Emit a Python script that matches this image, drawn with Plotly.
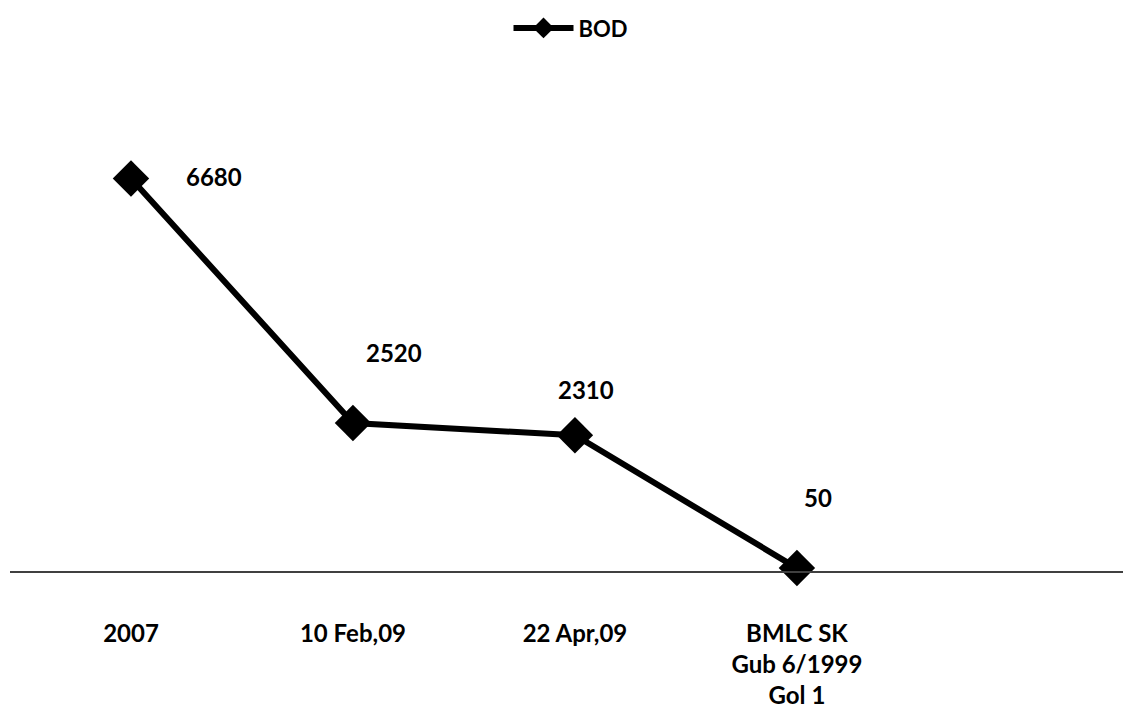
import plotly.graph_objects as go

categories = ["2007", "10 Feb,09", "22 Apr,09", "BMLC SK<br>Gub 6/1999<br>Gol 1"]
bod_values = [6680, 2520, 2310, 50]
series_name = "BOD"

# label offsets (pixels) relative to each marker: style only
label_dx = [83, 41, 11, 21]
label_dy = [2, 70, 46, 71]

FONT = "Lato"

fig = go.Figure()
fig.add_trace(go.Scatter(
    x=list(range(len(categories))), y=bod_values, name=f"<b>{series_name}</b>",
    mode="lines+markers",
    line=dict(color="#000000", width=6),
    marker=dict(symbol="diamond", size=28, color="#000000"),
    cliponaxis=False,
    showlegend=True,
))

for i, v in enumerate(bod_values):
    fig.add_annotation(x=i, y=v, text=f"<b>{v}</b>", showarrow=False,
                       xshift=label_dx[i], yshift=label_dy[i],
                       font=dict(family=FONT, size=24, color="#000000"))

fig.update_layout(
    width=1123, height=703,
    margin=dict(l=2, r=0, t=93, b=140, autoexpand=False),
    paper_bgcolor="white", plot_bgcolor="white",
    showlegend=True,
    legend=dict(orientation="h", x=0.5, xanchor="center", y=1.155, yanchor="middle",
                font=dict(family=FONT, size=22, color="#000000"),
                itemwidth=60),
    font=dict(family=FONT, size=22, color="#000000"),
)
fig.update_xaxes(
    range=[-0.545, 4.505],
    tickmode="array", tickvals=list(range(len(categories))),
    ticktext=[f"<b>{c}</b>" for c in categories],
    showline=True, linecolor="#404040", linewidth=2,
    showgrid=False, zeroline=False, ticks="",
    ticklabelstandoff=40,
    tickfont=dict(family=FONT, size=24, color="#000000"),
)
fig.update_yaxes(range=[0, 8000], visible=False, showgrid=False, zeroline=False)

fig.write_html("out.html")
